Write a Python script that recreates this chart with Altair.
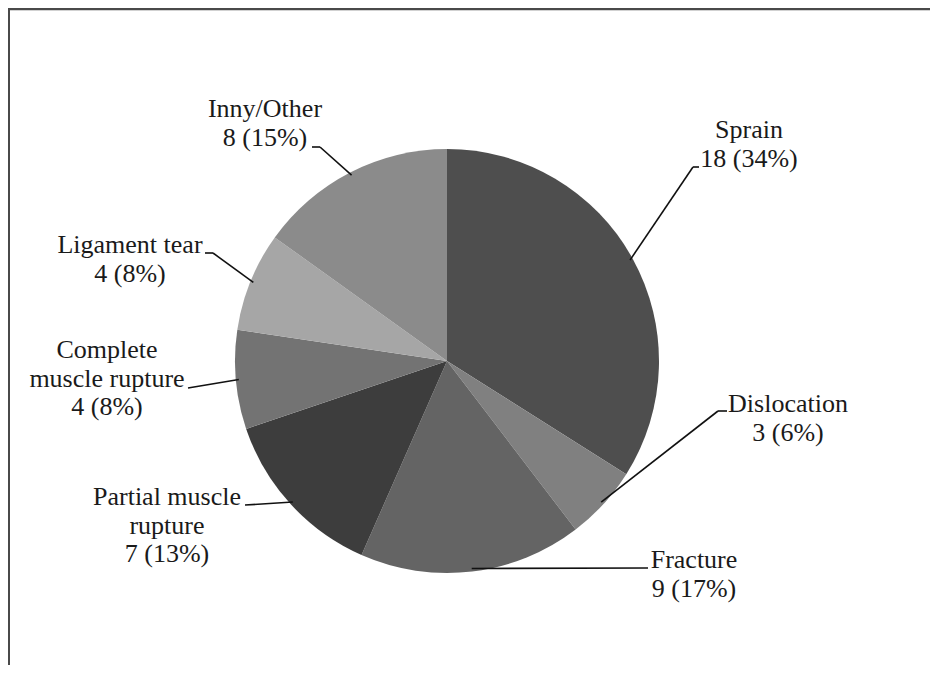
import math
import altair as alt
import pandas as pd

# ---- data ----
categories = ["Sprain", "Dislocation", "Fracture", "Partial muscle rupture",
              "Complete muscle rupture", "Ligament tear", "Inny/Other"]
counts = [18, 3, 9, 7, 4, 4, 8]
percents = [34, 6, 17, 13, 8, 8, 15]
label_lines = [["Sprain"], ["Dislocation"], ["Fracture"], ["Partial muscle", "rupture"],
               ["Complete", "muscle rupture"], ["Ligament tear"], ["Inny/Other"]]

# ---- styling / layout ----
colors = ["#4e4e4e", "#808080", "#646464", "#3d3d3d", "#737373", "#a6a6a6", "#8b8b8b"]
W, H = 922, 657
CX, CY, R = 439, 353, 212
FONT = "Liberation Serif"
FS = 26
LH = 28.5
# label block: centre x, first baseline y (chart px)
label_pos = [(741, 130), (780, 404), (686, 560), (159, 497),
             (99, 350), (122, 245), (257, 109)]
# leader line: start point near text, optional elbow (chart px)
leader_pts = [[(691, 159), (685, 159)], [(719, 403), (710, 403)], [(640, 560)],
              [(237, 497)], [(180, 380)], [(197, 245), (205, 245)], [(304, 139), (312, 139)]]

total = sum(counts)
pie_df = pd.DataFrame({"category": categories, "count": counts, "idx": list(range(len(categories)))})

# text rows
rows = []
for i, cat in enumerate(categories):
    lines = label_lines[i] + [f"{counts[i]} ({percents[i]}%)"]
    x0, y0 = label_pos[i]
    for j, t in enumerate(lines):
        rows.append({"x": x0, "y": y0 + j * LH, "text": t})
text_df = pd.DataFrame(rows)

# leader segments ending at the slice mid-angle on the pie edge
segs = []
cum = 0
for i, c in enumerate(counts):
    mid = (cum + c / 2) / total * 2 * math.pi
    cum += c
    ex = CX + (R - 3) * math.sin(mid)
    ey = CY - (R - 3) * math.cos(mid)
    pts = leader_pts[i] + [(ex, ey)]
    for a, b in zip(pts[:-1], pts[1:]):
        segs.append({"x": a[0], "y": a[1], "x2": b[0], "y2": b[1]})
seg_df = pd.DataFrame(segs)

frame_top = alt.Chart(pd.DataFrame({"a": [0]})).mark_rule(color="#4a4a4a", strokeWidth=2.5).encode(
    x=alt.value(0), x2=alt.value(W), y=alt.value(1))
frame_left = alt.Chart(pd.DataFrame({"a": [0]})).mark_rule(color="#4a4a4a", strokeWidth=2).encode(
    x=alt.value(1), y=alt.value(0), y2=alt.value(H))

pie = alt.Chart(pie_df).mark_arc(outerRadius=R, stroke=None).encode(
    theta=alt.Theta("count:Q", stack=True),
    color=alt.Color("category:N", scale=alt.Scale(domain=categories, range=colors), legend=None),
    order=alt.Order("idx:Q"),
    x=alt.value(CX), y=alt.value(CY),
)

leaders = alt.Chart(seg_df).mark_rule(color="#111111", strokeWidth=1.6).encode(
    x=alt.X("x:Q", scale=None), y=alt.Y("y:Q", scale=None),
    x2="x2:Q", y2="y2:Q",
)

labels = alt.Chart(text_df).mark_text(font=FONT, fontSize=FS, color="#1a1a1a",
                                      align="center", baseline="alphabetic").encode(
    x=alt.X("x:Q", scale=None), y=alt.Y("y:Q", scale=None), text="text:N",
)

chart = alt.layer(frame_top, frame_left, pie, leaders, labels).properties(
    width=W, height=H, padding=0, autosize=alt.AutoSizeParams(type="none"),
).configure_view(stroke=None).configure(background="white", font=FONT)

chart.save("out.html", embed_options={"renderer": "svg", "actions": False})
